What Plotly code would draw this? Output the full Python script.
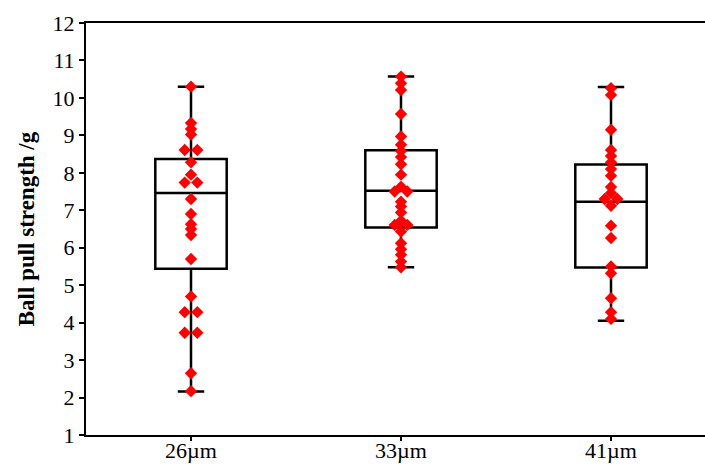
import plotly.graph_objects as go
from collections import Counter

# ---- data ----
categories = ["26µm", "33µm", "41µm"]

pull_26 = [10.30, 9.33, 9.17, 9.02, 8.61, 8.61, 8.28, 7.95, 7.74, 7.74, 7.30,
           6.90, 6.63, 6.50, 6.34, 5.70, 4.70, 4.28, 4.28, 3.73, 3.73, 2.65, 2.17]
pull_33 = [10.57, 10.39, 10.21, 9.57, 8.97, 8.75, 8.58, 8.42, 8.23, 7.95, 7.63,
           7.50, 7.50, 7.23, 7.10, 6.94, 6.72, 6.61, 6.61, 6.43, 6.12, 5.96,
           5.81, 5.63, 5.48]
pull_41 = [10.26, 10.08, 9.15, 8.61, 8.45, 8.28, 8.10, 7.92, 7.62, 7.46, 7.30,
           7.30, 7.12, 6.59, 6.26, 5.50, 5.32, 4.65, 4.28, 4.10]

box_q1 = [5.44, 6.54, 5.47]
box_median = [7.46, 7.52, 7.23]
box_q3 = [8.37, 8.60, 8.22]
box_lower = [2.16, 5.48, 4.05]
box_upper = [10.30, 10.57, 10.29]

y_ticks = list(range(1, 13))

groups = [pull_26, pull_33, pull_41]

fig = go.Figure()

serif = "Liberation Serif, Times New Roman, serif"

for i, cat in enumerate(categories):
    fig.add_trace(go.Box(
        x=[i], q1=[box_q1[i]], median=[box_median[i]], q3=[box_q3[i]],
        lowerfence=[box_lower[i]], upperfence=[box_upper[i]],
        width=0.34, whiskerwidth=0.37,
        line=dict(color="black", width=2.5),
        fillcolor="rgba(0,0,0,0)",
        boxpoints=False, showlegend=False, hoverinfo="skip",
    ))

pair_dx = 0.03
for i, vals in enumerate(groups):
    counts = Counter(vals)
    seen = Counter()
    xs = []
    for v in vals:
        n = counts[v]
        k = seen[v]
        seen[v] += 1
        off = (k - (n - 1) / 2) * 2 * pair_dx if n > 1 else 0.0
        xs.append(i + off)
    fig.add_trace(go.Scatter(
        x=xs, y=vals, mode="markers",
        marker=dict(symbol="diamond", size=9.5, color="#ff0000",
                    line=dict(width=0)),
        showlegend=False, hoverinfo="y",
    ))

fig.update_layout(
    width=705, height=464,
    margin=dict(l=86, r=0, t=23, b=29),
    paper_bgcolor="white", plot_bgcolor="white",
    font=dict(family=serif, size=22, color="black"),
    showlegend=False,
)
fig.update_xaxes(
    range=[-0.5, 2.5 - 11 / 210], automargin=False,
    tickvals=[0, 1, 2], ticktext=categories,
    showline=True, linecolor="black", linewidth=2, mirror=True,
    ticks="outside", ticklen=4, tickwidth=2, tickcolor="black",
    ticklabelstandoff=-9,
    showgrid=False, zeroline=False,
    tickfont=dict(family=serif, size=22, color="black"),
)
fig.update_yaxes(
    range=[1, 12], tickvals=y_ticks, automargin=False,
    showline=True, linecolor="black", linewidth=2,
    ticks="outside", ticklen=5, tickwidth=2, tickcolor="black",
    showgrid=False, zeroline=False,
    tickfont=dict(family=serif, size=22, color="black"),
    title=dict(text="<b>Ball pull strength /g</b>",
               font=dict(family=serif, size=23, color="black"), standoff=12),
)

fig.write_html("out.html")
